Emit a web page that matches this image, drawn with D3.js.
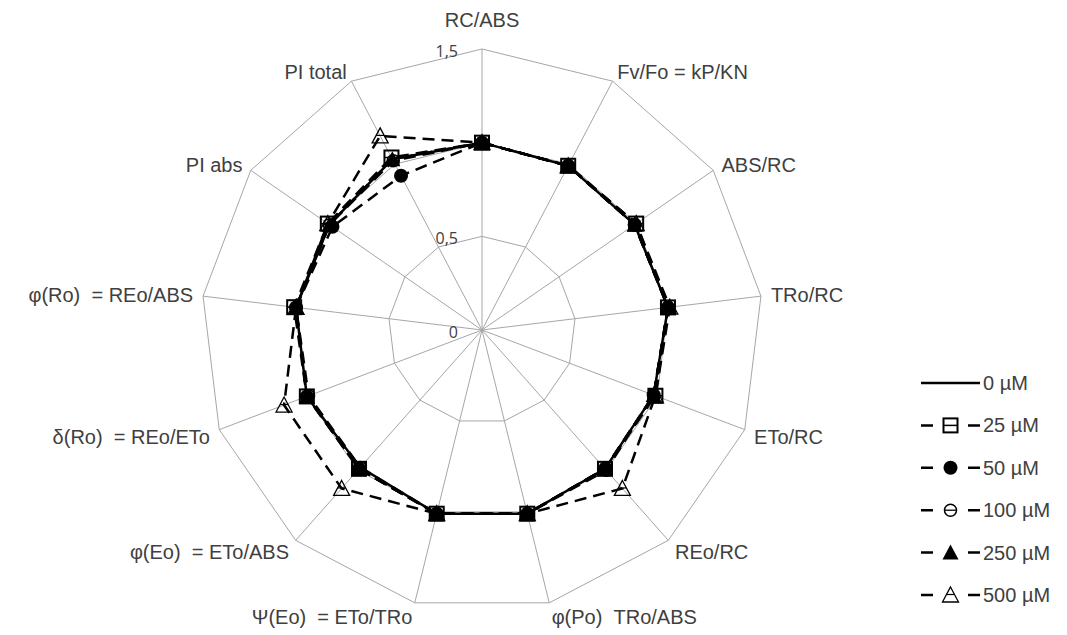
<!DOCTYPE html>
<html>
<head>
<meta charset="utf-8">
<script src="https://cdn.jsdelivr.net/npm/d3@7"></script>
<style>
  body { margin: 0; background: #fff; }
  text { font-family: "Liberation Sans", Arial, sans-serif; fill: #404040; white-space: pre; }
  .tick-label { font-family: "Open Sans", "Noto Sans", sans-serif; font-size: 16px; }
</style>
</head>
<body>
<div id="main"></div>
<script>
// axis names, clockwise from the top
var axes = ["RC/ABS", "Fv/Fo = kP/KN", "ABS/RC", "TRo/RC", "ETo/RC", "REo/RC",
    "φ(Po)  TRo/ABS", "Ψ(Eo)  = ETo/TRo", "φ(Eo)  = ETo/ABS", "δ(Ro)  = REo/ETo",
    "φ(Ro)  = REo/ABS", "PI abs", "PI total"];

// series (relative to control)
var seriesNames = ["0 µM", "25 µM", "50 µM", "100 µM", "250 µM", "500 µM"];
var v0   = [1.00, 0.99, 0.99, 1.00, 0.98, 0.99, 1.01, 1.01, 0.98, 1.00, 1.00, 0.99, 1.03];
var v25  = [1.00, 0.99, 1.00, 1.00, 0.99, 0.99, 1.01, 1.01, 0.99, 1.00, 1.01, 1.00, 1.04];
var v50  = [1.00, 0.99, 0.99, 1.00, 0.98, 0.99, 1.01, 1.01, 0.99, 1.00, 1.00, 0.97, 0.93];
var v100 = [1.00, 0.99, 0.99, 1.00, 0.98, 1.00, 1.01, 1.01, 0.98, 0.99, 1.00, 0.99, 1.02];
var v250 = [1.00, 0.99, 0.99, 1.00, 0.98, 0.99, 1.01, 1.01, 0.99, 1.00, 1.00, 0.99, 1.03];
var v500 = [1.00, 0.99, 1.00, 1.01, 0.99, 1.13, 1.01, 1.01, 1.13, 1.13, 1.00, 1.00, 1.17];
var markers = ["none", "squareBar", "circle", "circleBar", "triangle", "triangleBar"];

// grid
var gridLevels = [0.5, 1, 1.5];
var tickLevels = [0, 0.5, 1.5];
var tickText = ["0", "0,5", "1,5"];

// dimensions
var svg_width = 1067, svg_height = 635;
var cx = 482, cy = 330;

var svg = d3.select("#main").append("svg")
    .attr("width", svg_width)
    .attr("height", svg_height);

var rScale = d3.scaleLinear().domain([0, 1.5]).range([0, 281]);
var angle = d3.scalePoint().domain(d3.range(axes.length + 1)).range([0, 2 * Math.PI]);

function pt(i, v) {
    var a = angle(i);
    return [cx + rScale(v) * Math.sin(a), cy - rScale(v) * Math.cos(a)];
}

var g = svg.append("g");

/** grid polygons and spokes **/
g.selectAll(".ring")
    .data(gridLevels)
    .enter().append("polygon")
    .attr("points", function(l) { return axes.map(function(d, i) { return pt(i, l).join(","); }).join(" "); })
    .attr("fill", "none")
    .attr("stroke", "#a6a6a6")
    .attr("stroke-width", 1);

g.selectAll(".spoke")
    .data(axes)
    .enter().append("line")
    .attr("x1", cx).attr("y1", cy)
    .attr("x2", function(d, i) { return pt(i, 1.5)[0]; })
    .attr("y2", function(d, i) { return pt(i, 1.5)[1]; })
    .attr("stroke", "#a6a6a6")
    .attr("stroke-width", 1);

/** tick labels **/
g.selectAll(".tick-label")
    .data(tickLevels)
    .enter().append("text")
    .attr("class", "tick-label")
    .attr("x", cx - 24)
    .attr("y", function(d) { return cy - rScale(d) + 8; })
    .attr("text-anchor", "end")
    .text(function(d, i) { return tickText[i]; });

/** axis labels **/
g.selectAll(".axis-label")
    .data(axes)
    .enter().append("text")
    .attr("class", "axis-label")
    .style("font-size", "20px")
    .attr("text-anchor", function(d, i) {
        var s = Math.sin(angle(i));
        return Math.abs(s) < 0.1 ? "middle" : (s > 0 ? "start" : "end");
    })
    .attr("x", function(d, i) { return pt(i, 1.5)[0] + Math.sin(angle(i)) * 10; })
    .attr("y", function(d, i) {
        var c = Math.cos(angle(i)), p = pt(i, 1.5);
        if (i === 0) return p[1] - 22;
        return p[1] - c * 10 + (c < 0 ? 4 : 0) + 7;
    })
    .text(function(d) { return d; });

/** series **/
var allSeries = [v0, v25, v50, v100, v250, v500];

var line = d3.line()
    .x(function(d, i) { return pt(i, d)[0]; })
    .y(function(d, i) { return pt(i, d)[1]; })
    .curve(d3.curveLinearClosed);

function drawMarker(sel, type, x, y) {
    var mg = sel.append("g").attr("transform", "translate(" + x + "," + y + ")");
    if (type === "squareBar") {
        mg.append("rect").attr("x", -7).attr("y", -7).attr("width", 14).attr("height", 14)
            .attr("fill", "none").attr("stroke", "#000").attr("stroke-width", 2);
        mg.append("line").attr("x1", -7).attr("x2", 7).attr("y1", 0).attr("y2", 0)
            .attr("stroke", "#000").attr("stroke-width", 1.5);
    } else if (type === "circle") {
        mg.append("circle").attr("r", 7).attr("fill", "#000");
    } else if (type === "circleBar") {
        mg.append("circle").attr("r", 6).attr("fill", "none").attr("stroke", "#000").attr("stroke-width", 1.5);
        mg.append("line").attr("x1", -6).attr("x2", 6).attr("y1", 0).attr("y2", 0)
            .attr("stroke", "#000").attr("stroke-width", 1.3);
    } else if (type === "triangle") {
        mg.append("path").attr("d", "M0,-8L8,7L-8,7Z").attr("fill", "#000");
    } else if (type === "triangleBar") {
        mg.append("path").attr("d", "M0,-8L8,7L-8,7Z").attr("fill", "none")
            .attr("stroke", "#000").attr("stroke-width", 1.3);
        mg.append("line").attr("x1", -4).attr("x2", 4).attr("y1", -0.5).attr("y2", -0.5)
            .attr("stroke", "#000").attr("stroke-width", 1.2);
    }
}

allSeries.forEach(function(vals, s) {
    g.append("path")
        .datum(vals)
        .attr("d", line)
        .attr("fill", "none")
        .attr("stroke", "#000")
        .attr("stroke-width", 2.5)
        .attr("stroke-dasharray", s === 0 ? null : "12,7");
});

allSeries.forEach(function(vals, s) {
    if (markers[s] === "none") return;
    vals.forEach(function(v, i) {
        var p = pt(i, v);
        drawMarker(g, markers[s], p[0], p[1]);
    });
});

/** legend **/
var legend = svg.append("g").attr("id", "legend");
var legendY = d3.scalePoint().domain(seriesNames).range([383, 595]);

seriesNames.forEach(function(name, s) {
    var y = legendY(name);
    legend.append("line")
        .attr("x1", 921).attr("x2", 980)
        .attr("y1", y).attr("y2", y)
        .attr("stroke", "#000")
        .attr("stroke-width", 2.5)
        .attr("stroke-dasharray", s === 0 ? null : "12,35");
    if (markers[s] !== "none") drawMarker(legend, markers[s], 950.5, y);
    legend.append("text")
        .attr("x", 983).attr("y", y + 7)
        .style("font-size", "20px")
        .text(name);
});
</script>
</body>
</html>
